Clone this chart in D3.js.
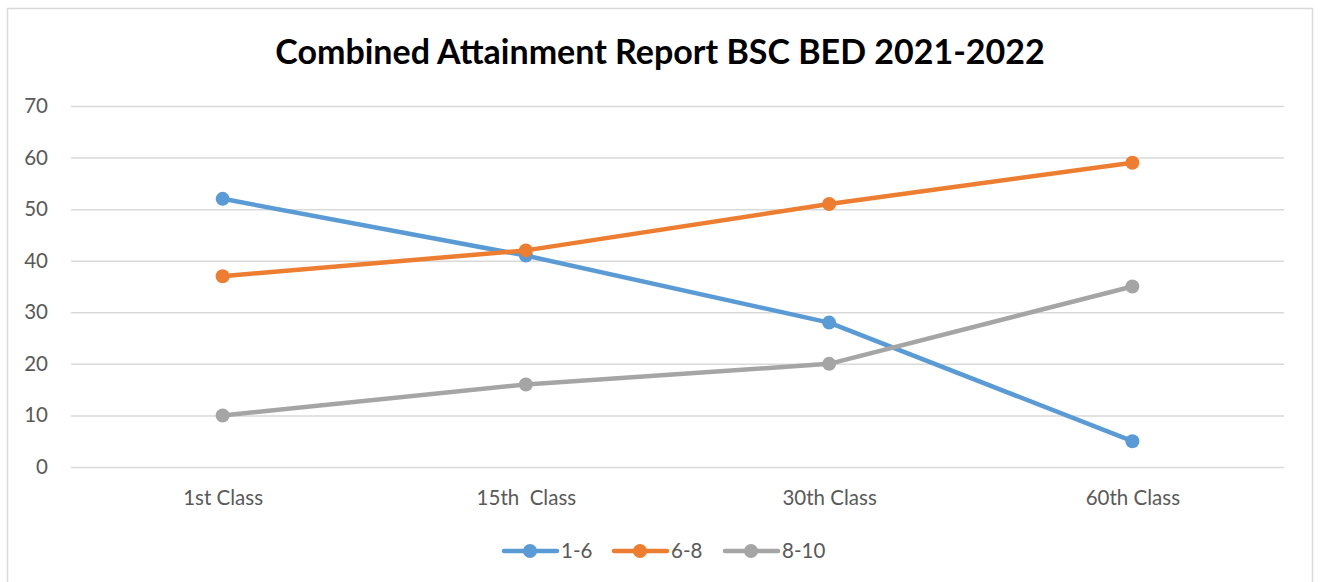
<!DOCTYPE html>
<html><head><meta charset="utf-8">
<script src="https://cdn.jsdelivr.net/npm/d3@7"></script>
<style>body{margin:0;background:#fff;}svg{display:block;font-family:Lato,"Open Sans",sans-serif;}</style>
</head><body><svg id="c" width="1324" height="582"></svg>
<script>
const categories = ["1st Class", "15th  Class", "30th Class", "60th Class"];
const seriesNames = ["1-6", "6-8", "8-10"];
const s16 = [52, 41, 28, 5];
const s68 = [37, 42, 51, 59];
const s810 = [10, 16, 20, 35];
const yTicks = [0, 10, 20, 30, 40, 50, 60, 70];
const colors = ["#5B9BD5", "#ED7D31", "#A5A5A5"];
const title = "Combined Attainment Report BSC BED 2021-2022";

const series = [s16, s68, s810].map((v, i) => ({name: seriesNames[i], values: v, color: colors[i]}));
const svg = d3.select("#c");
svg.append("rect").attr("x", 7.5).attr("y", 8.5).attr("width", 1305).attr("height", 590)
  .attr("fill", "#fff").attr("stroke", "#d9d9d9").attr("stroke-width", 1.5);

const x = d3.scalePoint().domain(categories).range([71, 1284]).padding(0.5);
const y = d3.scaleLinear().domain([0, 70]).range([467, 106]);

svg.append("text").attr("x", 660).attr("y", 64).attr("text-anchor", "middle")
  .attr("font-size", 34).attr("font-weight", "bold").attr("fill", "#000").text(title);

const ga = svg.append("g").attr("transform", "translate(71,0)")
  .call(d3.axisLeft(y).tickValues(yTicks).tickSize(-(1284 - 71)).tickPadding(23));
ga.select(".domain").remove();
ga.selectAll(".tick line").attr("stroke", "#d9d9d9").attr("stroke-width", 1.5);
ga.selectAll(".tick text").attr("fill", "#595959").attr("font-size", 20.5).attr("font-family", "Lato,sans-serif");

const gx = svg.append("g").attr("transform", "translate(0,467)")
  .call(d3.axisBottom(x).tickSize(0).tickPadding(23));
gx.select(".domain").remove();
gx.selectAll(".tick text").attr("fill", "#595959").attr("font-size", 20.5).attr("font-family", "Lato,sans-serif").style("white-space", "pre");

const line = d3.line().x((d, i) => x(categories[i])).y(d => y(d));
series.forEach(s => {
  svg.append("path").datum(s.values).attr("d", line).attr("fill", "none")
    .attr("stroke", s.color).attr("stroke-width", 4.5).attr("stroke-linejoin", "round").attr("stroke-linecap", "round");
  svg.selectAll(null).data(s.values).enter().append("circle")
    .attr("cx", (d, i) => x(categories[i])).attr("cy", d => y(d)).attr("r", 7).attr("fill", s.color);
});

const legX = [502, 612, 723];
const lg = svg.append("g");
series.forEach((s, i) => {
  const g = lg.append("g").attr("transform", `translate(${legX[i]},551)`);
  g.append("line").attr("x1", 2).attr("x2", 55).attr("y1", 0).attr("y2", 0)
    .attr("stroke", s.color).attr("stroke-width", 4.5).attr("stroke-linecap", "round");
  g.append("circle").attr("cx", 28).attr("cy", 0).attr("r", 7).attr("fill", s.color);
  g.append("text").attr("x", 59).attr("y", 0).attr("dy", "0.36em").attr("font-size", 20.5)
    .attr("fill", "#595959").text(s.name);
});
</script></body></html>
